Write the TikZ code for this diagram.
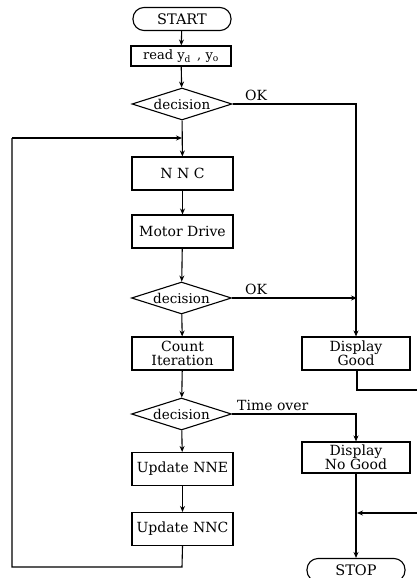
\documentclass[tikz,border=0pt]{standalone}
\usepackage{fontspec}
\setmainfont{DejaVu Serif}
\usetikzlibrary{arrows.meta, positioning, shapes.geometric}

\begin{document}
\begin{tikzpicture}[x=1pt, y=-1pt,
    flowbox/.style={draw, line width=1.1pt, minimum width=101pt, minimum height=33pt, inner sep=1pt, align=center, font=\fontsize{14}{14}\selectfont},
    endbox/.style={draw, line width=1.1pt, rounded corners=11pt, minimum width=98pt, minimum height=23pt, inner sep=0pt, font=\fontsize{14.5}{15}\selectfont},
    decbox/.style={draw, line width=1.1pt, diamond, aspect=3.1, inner sep=0pt, minimum width=100pt, minimum height=32pt, font=\fontsize{13.5}{14}\selectfont},
    lbl/.style={anchor=south west, inner sep=1pt, font=\fontsize{14}{14}\selectfont},
    arrow/.style={line width=1.1pt, -{Stealth[length=6pt, width=5pt]}},
    wire/.style={line width=1.1pt}
]
    \useasboundingbox (0,0) rectangle (416,578);

    % main column
    \node[endbox] (start) at (182, 19) {START};
    \node[flowbox, minimum width=100pt, minimum height=20pt, inner sep=0pt, font=\fontsize{13}{13}\selectfont] (read) at (181, 56) {read y\textsubscript{d} \,, y\textsubscript{o}};
    \node[decbox] (dec1) at (182, 104) {decision};
    \node[flowbox] (nnc) at (182.5, 173.5) {N N C};
    \node[flowbox] (motor) at (182.5, 231.5) {Motor Drive};
    \node[decbox] (dec2) at (181.5, 298) {decision};
    \node[flowbox] (count) at (182.5, 353.5) {Count\\Iteration};
    \node[decbox] (dec3) at (181.5, 414) {decision};
    \node[flowbox] (nne) at (182.5, 469) {Update NNE};
    \node[flowbox] (unnc) at (182.5, 529) {Update NNC};

    % right column
    \node[flowbox, minimum width=108pt, minimum height=33pt] (good) at (356, 353.5) {Display\\Good};
    \node[flowbox, minimum width=108pt, minimum height=31pt] (nogood) at (356, 457.5) {Display\\No Good};
    \node[endbox] (stop) at (356, 570) {STOP};

    \coordinate (loopin) at (182, 138);
    \coordinate (okin) at (357, 298);
    \coordinate (goodout) at (357, 390);
    \coordinate (edge1) at (419, 390);
    \coordinate (edge2) at (419, 513);
    \coordinate (stopin) at (357, 513);
    \coordinate (loopbot) at (182, 567);
    \coordinate (loopleft) at (12, 567);
    \coordinate (looptop) at (12, 138);

    \draw[arrow] (start) -- (read);
    \draw[arrow] (read) -- (dec1);
    \draw[arrow] (dec1) -- (nnc);
    \draw[arrow] (nnc) -- (motor);
    \draw[arrow] (motor) -- (dec2);
    \draw[arrow] (dec2) -- (count);
    \draw[arrow] (count) -- (dec3);
    \draw[arrow] (dec3) -- (nne);
    \draw[arrow] (nne) -- (unnc);

    \draw[arrow] (dec1.east) -| (good.north);
    \draw[arrow] (dec2.east) -- (okin);
    \draw[arrow] (dec3.east) -| (nogood.north);
    \draw[arrow] (nogood) -- (stop);
    \draw[wire] (good.south -| goodout) -- (goodout) -- (edge1) -- (edge2);
    \draw[arrow] (edge2) -- (stopin);
    \draw[wire] (unnc.south) -- (loopbot) -- (loopleft) -- (looptop);
    \draw[arrow] (looptop) -- (loopin);

    \node[lbl] (ok1) at (244, 102) {OK};
    \node[lbl] (ok2) at (244, 296) {OK};
    \node[lbl] (tover) at (236, 412) {Time over};
\end{tikzpicture}
\end{document}
